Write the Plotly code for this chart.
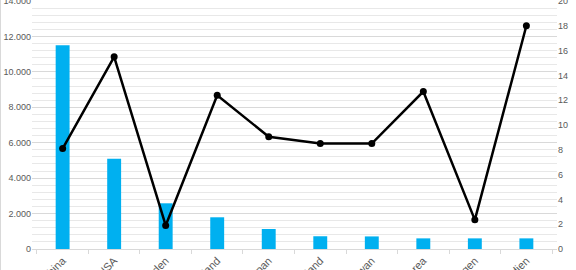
import plotly.graph_objects as go

categories = ["China", "USA", "Schweden", "Deutschland", "Japan", "Finnland",
              "Taiwan", "Südkorea", "Norwegen", "Indien"]
bar_values = [11500, 5100, 2580, 1790, 1130, 720, 710, 600, 600, 600]
line_values = [8.1, 15.5, 1.9, 12.4, 9.05, 8.5, 8.5, 12.7, 2.35, 18.0]

left_ticks = [0, 2000, 4000, 6000, 8000, 10000, 12000, 14000]
right_ticks = [0, 2, 4, 6, 8, 10, 12, 14, 16, 18, 20]

fig = go.Figure()
fig.add_trace(go.Bar(x=categories, y=bar_values, marker_color="#00b0f0",
                     marker_line_width=0, yaxis="y"))
fig.add_trace(go.Scatter(x=categories, y=line_values, yaxis="y2",
                         mode="lines+markers",
                         line=dict(color="black", width=2.5),
                         marker=dict(color="black", size=7)))

fig.update_layout(
    width=576, height=270,
    margin=dict(l=32, r=19, t=1, b=21),
    template="none",
    paper_bgcolor="white", plot_bgcolor="white",
    showlegend=False,
    separators=",.",
    bargap=0.73,
    font=dict(family="Liberation Sans, Arial", color="#595959", size=9),
    xaxis=dict(
        type="category", automargin=False,
        showline=True, linecolor="#d9d9d9", linewidth=1,
        ticks="outside", tickson="boundaries", ticklen=4, tickcolor="#d9d9d9",
        tickangle=-45, tickfont=dict(size=11, color="#595959"),
        ticklabeloverflow="allow",
        showgrid=False, zeroline=False,
    ),
    yaxis=dict(
        range=[0, 14000], tickvals=left_ticks, tickformat=",d",
        automargin=False, ticklabeloverflow="allow",
        showgrid=True, gridcolor="#d9d9d9", gridwidth=1,
        minor=dict(dtick=400, showgrid=True, gridcolor="#e8e8e8", gridwidth=1),
        zeroline=False, showline=False, ticks="",
        tickfont=dict(size=9, color="#595959"),
    ),
    yaxis2=dict(
        range=[0, 20], tickvals=right_ticks, overlaying="y", side="right",
        automargin=False, ticklabeloverflow="allow",
        showgrid=False, zeroline=False, showline=False, ticks="",
        tickfont=dict(size=9, color="#595959"),
    ),
    shapes=[dict(type="line", xref="paper", yref="paper",
                 x0=-31.5 / 525, x1=-31.5 / 525, y0=-21 / 248, y1=1 + 1 / 248,
                 line=dict(color="#d9d9d9", width=1))],
)

fig.write_html("out.html")
